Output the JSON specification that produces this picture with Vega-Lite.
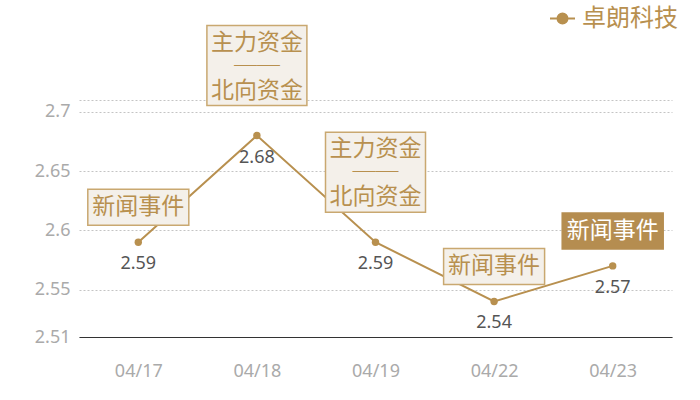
{
  "$schema": "https://vega.github.io/schema/vega-lite/v6.json",
  "width": 593,
  "height": 237,
  "autosize": {"type": "none"},
  "padding": {"left": 79, "top": 100, "right": 28, "bottom": 63},
  "background": "white",
  "data": {
    "values": [
      {"date": "04/17", "value": 2.59, "event": "新闻事件", "kind": "news", "stock": "卓朗科技"},
      {"date": "04/18", "value": 2.68, "event": "主力资金\n──\n北向资金", "kind": "capital", "stock": "卓朗科技"},
      {"date": "04/19", "value": 2.59, "event": "主力资金\n──\n北向资金", "kind": "capital", "stock": "卓朗科技"},
      {"date": "04/22", "value": 2.54, "event": "新闻事件", "kind": "news", "stock": "卓朗科技"},
      {"date": "04/23", "value": 2.57, "event": "新闻事件", "kind": "highlight", "stock": "卓朗科技"}
    ]
  },
  "encoding": {
    "x": {
      "field": "date",
      "type": "ordinal",
      "title": null,
      "scale": {"type": "point", "padding": 0.5},
      "axis": {
        "labelAngle": 0,
        "ticks": false,
        "grid": false,
        "domainColor": "#333333",
        "domainWidth": 1,
        "labelColor": "#aaaaaa",
        "labelFontSize": 18,
        "labelPadding": 25
      }
    },
    "y": {
      "field": "value",
      "type": "quantitative",
      "title": null,
      "scale": {"domain": [2.51, 2.71], "nice": false, "zero": false},
      "axis": {
        "values": [2.51, 2.55, 2.6, 2.65, 2.7, 2.71],
        "labelExpr": "datum.value > 2.705 ? '' : format(datum.value, '~g')",
        "domain": false,
        "ticks": false,
        "gridDash": [2, 2],
        "gridColor": "#c4c4c4",
        "labelColor": "#aaaaaa",
        "labelFontSize": 18,
        "labelPadding": 9
      }
    }
  },
  "layer": [
    {
      "mark": {"type": "line", "strokeWidth": 2},
      "encoding": {
        "color": {
          "field": "stock",
          "type": "nominal",
          "scale": {"range": ["#b8904f"]},
          "legend": {
            "orient": "none",
            "legendX": 470,
            "legendY": -95,
            "title": null,
            "labelFontSize": 24,
            "labelColor": "#b8904f",
            "labelFont": "Noto Sans CJK SC",
            "labelOffset": 6,
            "symbolType": "M-1,0H-0.4M0.4,0H1M0.4,0A0.4,0.4,0,1,1,-0.4,0A0.4,0.4,0,1,1,0.4,0Z",
            "symbolSize": 625,
            "symbolStrokeWidth": 2,
            "symbolFillColor": "#b8904f",
            "symbolStrokeColor": "#dcc8a4"
          }
        }
      }
    },
    {"mark": {"type": "point", "filled": true, "size": 55, "color": "#b8904f", "opacity": 1}},
    {
      "mark": {"type": "text", "dy": 22, "fontSize": 18, "color": "#555555"},
      "encoding": {"text": {"field": "value", "type": "quantitative", "format": ".2f"}}
    },
    {
      "transform": [{"filter": "datum.kind == 'news'"}],
      "layer": [
        {"mark": {"type": "point", "shape": "M-1,-0.356H1V0.356H-1Z", "size": 10201, "filled": true, "fill": "#f4f0ea", "stroke": "#c9a870", "strokeWidth": 1.5, "opacity": 1, "yOffset": -35}},
        {"mark": {"type": "text", "yOffset": -35, "fontSize": 23, "font": "Noto Sans CJK SC", "color": "#b8904f"}, "encoding": {"text": {"field": "event"}}}
      ]
    },
    {
      "transform": [{"filter": "datum.kind == 'capital'"}],
      "layer": [
        {"mark": {"type": "point", "shape": "M-1,-0.8H1V0.8H-1Z", "size": 10000, "filled": true, "fill": "#f4f0ea", "stroke": "#c9a870", "strokeWidth": 1.5, "opacity": 1, "yOffset": -70}},
        {"mark": {"type": "text", "yOffset": -93, "fontSize": 23, "font": "Noto Sans CJK SC", "color": "#b8904f", "lineBreak": "\n", "lineHeight": 24}, "encoding": {"text": {"field": "event"}}}
      ]
    },
    {
      "transform": [{"filter": "datum.kind == 'highlight'"}],
      "layer": [
        {"mark": {"type": "point", "shape": "M-1,-0.356H1V0.356H-1Z", "size": 10201, "filled": true, "fill": "#b58d50", "stroke": "#b58d50", "strokeWidth": 1.5, "opacity": 1, "yOffset": -35}},
        {"mark": {"type": "text", "yOffset": -35, "fontSize": 23, "font": "Noto Sans CJK SC", "color": "#ffffff"}, "encoding": {"text": {"field": "event"}}}
      ]
    }
  ],
  "config": {
    "font": "Noto Sans",
    "view": {"stroke": null},
    "axis": {"labelFont": "Noto Sans"}
  }
}
